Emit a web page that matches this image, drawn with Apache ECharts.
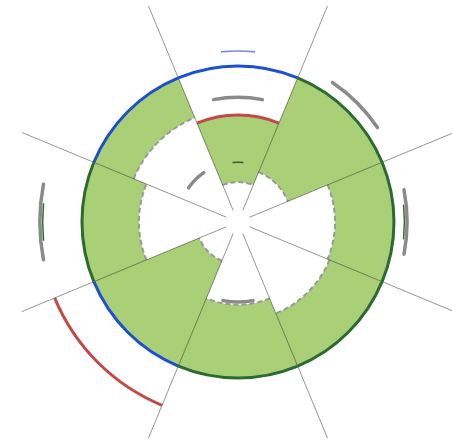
<!DOCTYPE html>
<html><head><meta charset="utf-8">
<script src="https://cdn.jsdelivr.net/npm/echarts@6/dist/echarts.min.js"></script>
<style>html,body{margin:0;padding:0;background:#fff}#c{width:452px;height:441px}</style>
</head><body><div id="c"></div>
<script>
// ---- data (radius units: outer boundary ring = 100) ----
const sectors      = ['N','NE','E','SE','S','SW','W','NW'];
const sectorAngles = [0, 45, 90, 135, 180, 225, 270, 315];   // bearing of sector centre
const halfWidth    = 22.5;
const innerValues  = [25.6, 34.6, 62.2, 63.5, 53.0, 26.9, 63.5, 72.4];
const outerValues  = [68.6, 100, 100, 100, 100, 100, 100, 100];
const ringValue    = 100;
const ringKind     = ['blue','green','green','green','green','blue','green','blue'];
const rayAngles    = [22.5, 67.5, 112.5, 157.5, 202.5, 247.5, 292.5, 337.5];
const rayRange     = [8, 150];
// markers: sector index, radius, half span (deg), kind
const markSector = [0,    0,    0,     0,    1,     2,     2,     6,     6,     7,    4,    5];
const markRadius = [68.6, 80,   109.6, 38.3, 108.0, 108.4, 106.7, 127.0, 125.2, 38.5, 51.3, 127.2];
const markHalf   = [22.5, 11.3, 5.7,   5.2,  10.9,  11.0,  6.0,   11.0,  5.5,   10.3, 10.8, 22.5];
const markKind   = ['red','gray','lightblue','dark','gray','gray','darkgreen','gray','green','gray','gray','red'];

const colors = {
  fill: '#a9cf77', blue: '#1d4fd3', green: '#2c6b30', red: '#c24a48',
  gray: '#8a8a8a', lightblue: '#6f8fdc', dark: '#3d5a2c', darkgreen: '#3f6b3a',
  dash: '#999999', ray: 'rgba(0,0,0,0.42)'
};
const markWidth = {red: 3, gray: 3.5, lightblue: 1.6, dark: 1.5, darkgreen: 1.5, green: 1.5};

function geo(api, params, r, b) {
  const p = api.coord([r, b]);
  const cs = params.coordSys;
  return {x: p[0], y: p[1], cx: cs.cx, cy: cs.cy,
          r: Math.hypot(p[0] - cs.cx, p[1] - cs.cy),
          a: Math.atan2(p[1] - cs.cy, p[0] - cs.cx)};
}
function span(api, params, b0, b1) {
  const g0 = geo(api, params, ringValue, b0), g1 = geo(api, params, ringValue, b1);
  let a0 = g0.a, a1 = g1.a;
  if (a1 <= a0) a1 += Math.PI * 2;
  return {cx: g0.cx, cy: g0.cy, a0, a1};
}
function radPx(api, params, r, b) { return geo(api, params, r, b).r; }

const sectorData = sectors.map((s, i) => [innerValues[i], outerValues[i], sectorAngles[i]]);
const ringData = sectors.map((s, i) => [ringValue, sectorAngles[i], ringKind[i]]);
const rayData = rayAngles.map(a => [rayRange[0], rayRange[1], a]);
const markData = markSector.map((s, i) => [markRadius[i], sectorAngles[s], markHalf[i], markKind[i]]);

const chart = echarts.init(document.getElementById('c'));
chart.setOption({
  animation: false,
  polar: {center: ['52.65%', '50.34%'], radius: 234},
  angleAxis: {type: 'value', min: 0, max: 360, startAngle: 90, clockwise: true, show: false},
  radiusAxis: {type: 'value', min: 0, max: 150, show: false},
  series: [
    { // green sectors
      type: 'custom', coordinateSystem: 'polar', data: sectorData,
      renderItem(params, api) {
        const r0v = api.value(0), r1v = api.value(1), b = api.value(2);
        const sp = span(api, params, b - halfWidth, b + halfWidth);
        return {type: 'sector', shape: {cx: sp.cx, cy: sp.cy,
          r0: radPx(api, params, r0v, b), r: radPx(api, params, r1v, b),
          startAngle: sp.a0, endAngle: sp.a1, clockwise: true},
          style: {fill: colors.fill}};
      }
    },
    { // dashed inner boundaries
      type: 'custom', coordinateSystem: 'polar', data: sectorData,
      renderItem(params, api) {
        const r0v = api.value(0), b = api.value(2);
        const sp = span(api, params, b - halfWidth, b + halfWidth);
        return {type: 'arc', shape: {cx: sp.cx, cy: sp.cy, r: radPx(api, params, r0v, b),
          startAngle: sp.a0, endAngle: sp.a1, clockwise: true},
          style: {fill: null, stroke: colors.dash, lineWidth: 2, lineDash: [5, 3]}};
      }
    },
    { // rays
      type: 'custom', coordinateSystem: 'polar', data: rayData,
      renderItem(params, api) {
        const b = api.value(2);
        const p0 = api.coord([api.value(0), b]), p1 = api.coord([api.value(1), b]);
        return {type: 'line', shape: {x1: p0[0], y1: p0[1], x2: p1[0], y2: p1[1]},
          style: {stroke: colors.ray, lineWidth: 1}};
      }
    },
    { // outer ring
      type: 'custom', coordinateSystem: 'polar', data: ringData,
      renderItem(params, api) {
        const rv = api.value(0), b = api.value(1), kind = ringKind[params.dataIndex];
        const sp = span(api, params, b - halfWidth, b + halfWidth);
        return {type: 'arc', shape: {cx: sp.cx, cy: sp.cy, r: radPx(api, params, rv, b),
          startAngle: sp.a0, endAngle: sp.a1, clockwise: true},
          style: {fill: null, stroke: colors[kind], lineWidth: 3}};
      }
    },
    { // markers
      type: 'custom', coordinateSystem: 'polar', data: markData,
      renderItem(params, api) {
        const rv = api.value(0), b = api.value(1), h = api.value(2), kind = markKind[params.dataIndex];
        const sp = span(api, params, b - h, b + h);
        return {type: 'arc', shape: {cx: sp.cx, cy: sp.cy, r: radPx(api, params, rv, b),
          startAngle: sp.a0, endAngle: sp.a1, clockwise: true},
          style: {fill: null, stroke: colors[kind], lineWidth: markWidth[kind],
                  lineCap: kind === 'gray' ? 'round' : 'butt'}};
      }
    }
  ]
});
</script>
</body></html>
